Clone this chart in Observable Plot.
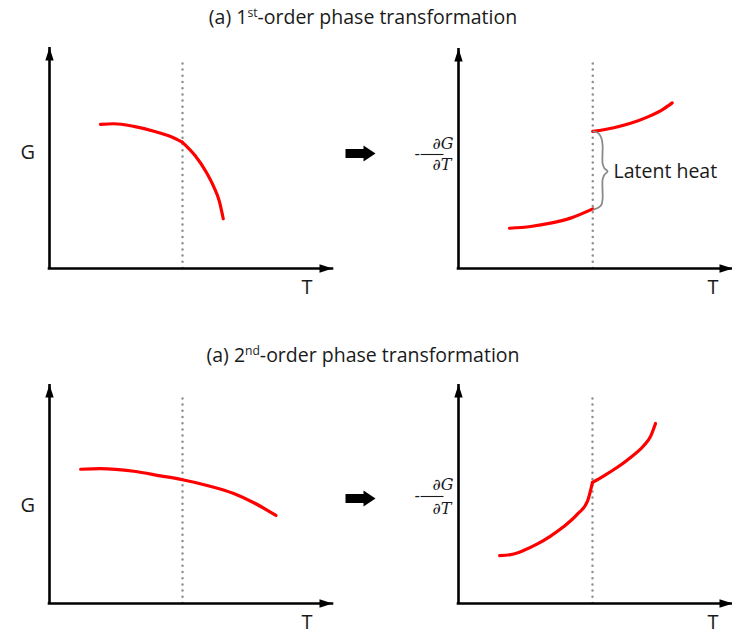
<!DOCTYPE html>
<html><head><meta charset="utf-8">
<script src="https://cdn.jsdelivr.net/npm/d3@7"></script>
<script src="https://cdn.jsdelivr.net/npm/@observablehq/plot@0.6"></script>
<style>
body{margin:0;background:#fff;}
#fig{position:relative;width:732px;height:638px;font-family:"Open Sans",sans-serif;color:#1a1a1a;overflow:hidden;}
.title{position:absolute;left:0;width:726px;text-align:center;font-size:19.5px;line-height:24px;white-space:nowrap;}
.title sup{font-size:0.62em;line-height:0;vertical-align:0;position:relative;top:-0.55em;}
.panel{position:absolute;}
.panel svg{background:transparent !important;overflow:visible;}
</style></head><body><div id="fig"></div>
<script>
// ---- data (T and y in axis-relative units, 0..100 = origin..arrow tip) ----
const titles = [["(a) 1", "st", "-order phase transformation"], ["(a) 2", "nd", "-order phase transformation"]];
const yLabelG = "G";
const xLabelT = "T";
const braceLabel = "Latent heat";

// 1st order, G(T)
const g1aT = [18.0, 22.7, 29.8, 36.9, 42.8, 47.0];
const g1aG = [65.2, 65.5, 64.3, 62.1, 59.7, 57.1];
const g1bT = [47.0, 51.5, 55.2, 58.1, 60.0, 61.4];
const g1bG = [57.1, 51.0, 44.0, 36.8, 30.5, 22.5];
const tc1L = 47.0, tcTop1L = 93.7;

// 1st order, -dG/dT
const d1aT = [18.6, 26.3, 33.6, 40.9, 49.0];
const d1aS = [18.3, 19.1, 20.6, 22.9, 27.1];
const d1bT = [49.0, 56.7, 62.8, 68.9, 74.9, 78.0];
const d1bS = [62.3, 64.0, 66.0, 68.8, 72.6, 75.3];
const tc1R = 49.0, tcTop1R = 94.0;
const braceT = [49.3, 51.1, 52.2, 52.6, 52.6, 53.3, 54.4, 53.3, 52.6, 52.6, 52.2, 51.1, 49.3];
const braceS = [62.3, 61.4, 59.1, 55.9, 47.7, 45.5, 44.1, 42.7, 40.5, 31.8, 29.1, 27.7, 26.8];

// 2nd order, G(T)
const g2T = [11.0, 18.0, 29.8, 39.2, 47.0, 55.7, 65.1, 72.2, 80.0];
const g2G = [61.3, 61.6, 60.4, 58.3, 56.5, 53.9, 50.2, 46.0, 40.2];
const tc2L = 47.0, tcTop2L = 94.5;

// 2nd order, -dG/dT
const d2aT = [15.0, 19.0, 23.7, 28.8, 33.6, 38.3, 43.4, 47.1, 48.9];
const d2aS = [21.9, 22.3, 24.2, 27.2, 30.8, 35.0, 40.8, 46.8, 55.3];
const d2bT = [48.9, 52.9, 58.0, 62.8, 67.5, 70.1, 71.9];
const d2bS = [55.3, 58.2, 62.2, 66.7, 71.9, 76.3, 82.2];
const tc2R = 48.9, tcTop2R = 94.5;

// ---- helpers ----
const zip = (xs, ys) => xs.map((x, i) => ({x, y: ys[i]}));
const headUp = {draw(c){c.moveTo(0,0);c.lineTo(4.2,13);c.lineTo(-4.2,13);c.closePath();}};
const headRight = {draw(c){c.moveTo(0,0);c.lineTo(-13,-4.2);c.lineTo(-13,4.2);c.closePath();}};
const blockArrow = {draw(c){c.moveTo(0,0);c.lineTo(-12,-8);c.lineTo(-12,-4.5);c.lineTo(-30,-4.5);c.lineTo(-30,4.5);c.lineTo(-12,4.5);c.lineTo(-12,8);c.closePath();}};
const fracBar = {draw(c){c.moveTo(-11.5,0);c.lineTo(11.5,0);}};

function panel(o){
  const marks = [
    Plot.ruleX([o.tc], {y1: 0, y2: o.tcTop, stroke: "#8f8f8f", strokeWidth: 2.5, strokeDasharray: "0,6.2", strokeLinecap: "round"}),
    Plot.ruleX([0], {stroke: "black", strokeWidth: 2.6}),
    Plot.ruleY([0], {stroke: "black", strokeWidth: 2.6, strokeLinecap: "square"}),
    Plot.dot([0], {x: d => d, frameAnchor: "top", symbol: headUp, fill: "black", stroke: "none"}),
    Plot.dot([0], {y: d => d, frameAnchor: "right", symbol: headRight, fill: "black", stroke: "none"}),
    Plot.text([xLabelT], {text: d => d, frameAnchor: "bottom-right", dx: o.tDx, dy: 25, fontSize: 20, fill: "#1a1a1a"})
  ];
  for (const seg of o.segments) {
    marks.push(Plot.line(seg, {x: "x", y: "y", stroke: "#ff0000", strokeWidth: 3.2, curve: "monotone-x"}));
  }
  if (o.brace) {
    marks.push(Plot.line(o.brace, {x: "x", y: "y", stroke: "#8a8a8a", strokeWidth: 1.8, curve: "catmull-rom"}));
    const tip = o.brace[6];
    marks.push(Plot.text([braceLabel], {x: tip.x, y: tip.y, text: d => d, textAnchor: "start", dx: 6, fontSize: 19.5, fill: "#1a1a1a"}));
  }
  if (o.deriv) {
    marks.push(Plot.dot([0], {frameAnchor: "left", dx: -83, dy: o.arrowDy, symbol: blockArrow, fill: "black", stroke: "none"}));
    marks.push(Plot.dot([0], {frameAnchor: "left", dx: -26.5, dy: o.fracDy, symbol: fracBar, fill: "none", stroke: "#1a1a1a", strokeWidth: 1.1}));
    marks.push(Plot.text(["-"], {text: d => d, frameAnchor: "left", dx: -44, dy: o.fracDy - 1, fontSize: 16, fontFamily: "DejaVu Serif", fill: "#1a1a1a"}));
    marks.push(Plot.text(["\u2202G"], {text: d => d, frameAnchor: "left", dx: -26, dy: o.fracDy - o.fracGap, fontSize: 16, fontStyle: "italic", fontFamily: "DejaVu Serif", fill: "#1a1a1a"}));
    marks.push(Plot.text(["\u2202T"], {text: d => d, frameAnchor: "left", dx: -26, dy: o.fracDy + o.fracGap, fontSize: 16, fontStyle: "italic", fontFamily: "DejaVu Serif", fill: "#1a1a1a"}));
  } else {
    marks.push(Plot.text([yLabelG], {text: d => d, frameAnchor: "left", dx: -29, dy: o.gDy, fontSize: 20, fill: "#1a1a1a"}));
  }
  const p = Plot.plot({
    width: o.width, height: o.height,
    marginLeft: o.mL, marginRight: o.mR, marginTop: o.mT, marginBottom: o.mB,
    x: {domain: [0, 100], axis: null},
    y: {domain: [0, 100], axis: null},
    style: {fontFamily: "'Open Sans', sans-serif", background: "transparent", overflow: "visible"},
    marks
  });
  const wrap = document.createElement("div");
  wrap.className = "panel";
  wrap.style.left = o.left + "px";
  wrap.style.top = o.top + "px";
  wrap.appendChild(p);
  return wrap;
}

const fig = document.getElementById("fig");
[[5, titles[0]], [343, titles[1]]].forEach(([top, t]) => {
  const d = document.createElement("div");
  d.className = "title";
  d.style.top = top + "px";
  d.innerHTML = `${t[0]}<sup>${t[1]}</sup>${t[2]}`;
  fig.appendChild(d);
});

fig.appendChild(panel({left: 0, top: 40, width: 340, height: 275, mL: 49, mR: 8, mT: 7, mB: 47, tc: tc1L, tcTop: tcTop1L, tDx: -20, gDy: -5,
  segments: [zip(g1aT, g1aG), zip(g1bT, g1bG)]}));
fig.appendChild(panel({left: 332, top: 40, width: 400, height: 275, mL: 126, mR: 0, mT: 8, mB: 47, tc: tc1R, tcTop: tcTop1R, tDx: -14, deriv: true, arrowDy: -5, fracDy: -4, fracGap: 10.5,
  segments: [zip(d1aT, d1aS), zip(d1bT, d1bS)], brace: zip(braceT, braceS)}));
fig.appendChild(panel({left: 0, top: 375, width: 340, height: 263, mL: 49, mR: 8, mT: 9, mB: 35, tc: tc2L, tcTop: tcTop2L, tDx: -20, gDy: 11.5,
  segments: [zip(g2T, g2G)]}));
fig.appendChild(panel({left: 332, top: 375, width: 400, height: 263, mL: 126, mR: 0, mT: 9, mB: 35, tc: tc2R, tcTop: tcTop2R, tDx: -14, deriv: true, arrowDy: 4.5, fracDy: 2.5, fracGap: 12,
  segments: [zip(d2aT, d2aS), zip(d2bT, d2bS)]}));
</script></body></html>
